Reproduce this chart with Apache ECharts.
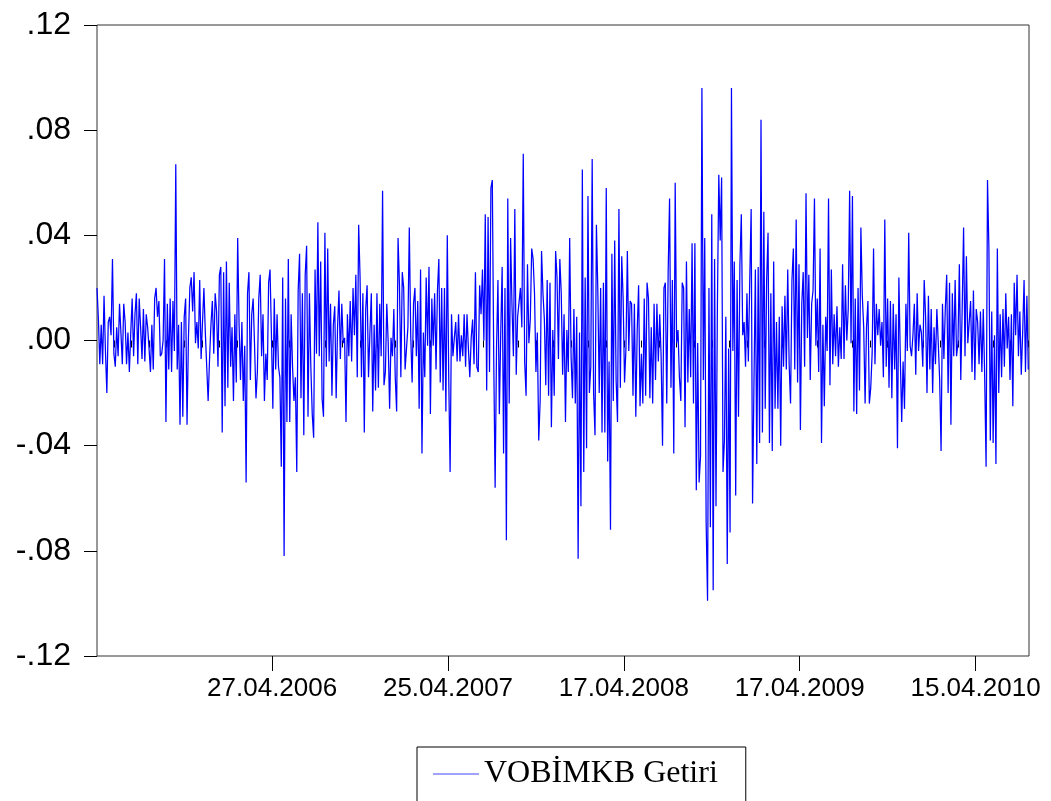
<!DOCTYPE html>
<html>
<head>
<meta charset="utf-8">
<title>VOBİMKB Getiri</title>
<script src="https://cdn.jsdelivr.net/npm/echarts@6/dist/echarts.min.js"></script>
<style>
  html, body { margin: 0; padding: 0; background: #fff; }
  #chart { width: 1051px; height: 801px; }
</style>
</head>
<body>
<div id="chart"></div>
<script>
// günlük getiri (her 2 gözlemde bir: 1, 3, 5, ...)
var getiri = [
  .020, .008, -.009, .006, -.009, .017, -.004, -.020, .007, .009,
  .002, .031, -.005, -.010, .005, -.006, .014, .003, -.009, .014,
  .007, -.009, .003, -.012, .003, .016, -.006, .010, .018, -.009,
  .016, .005, -.007, .012, -.008, .010, .005, -.003, -.012, .006,
  -.011, .016, .020, .009, .015, -.006, -.005, .000, .031, -.031,
  .014, -.011, .016, -.012, .015, -.004, .067, -.011, .006, -.032,
  .007, -.029, .009, .016, -.032, .001, .020, .024, .011, .026,
  -.001, .007, -.003, .023, -.007, .007, .020, .003, -.010, -.023,
  -.007, .006, .015, -.005, .018, .011, -.010, .025, .028, -.035,
  .026, -.025, .030, -.018, .022, -.010, .005, -.023, .010, -.016,
  .039, .006, -.015, .007, -.023, -.002, -.054, .018, .026, -.015,
  .010, .016, -.002, -.022, -.012, .016, .025, -.006, .010, -.023,
  -.005, -.015, .022, .027, .002, -.026, .016, -.011, .010, -.010,
  -.014, -.048, .024, -.082, .016, -.031, .031, -.031, .010, -.010,
  -.023, -.014, -.050, .019, .033, -.022, .018, -.036, .025, .036,
  -.029, .018, -.010, -.028, -.037, .027, -.005, .045, -.006, .030,
  -.022, -.029, .041, -.010, .035, -.008, .014, -.021, .006, .013,
  -.022, .005, .019, -.007, .014, -.001, .001, -.031, .010, -.006,
  .015, -.008, .020, .002, .025, -.014, .044, .024, -.014, .018,
  -.035, .012, .021, -.014, .003, .018, -.027, .006, -.019, .018,
  -.018, .014, -.006, .057, -.017, -.012, .014, -.001, -.026, .001,
  -.006, .012, -.014, -.027, .039, .021, -.014, .026, .020, -.011,
  -.011, .005, .043, .002, -.016, .014, .020, -.006, .015, -.026,
  .027, -.043, .003, -.014, .024, -.002, .028, -.028, .016, -.002,
  .018, -.011, .019, .031, -.016, .020, -.019, .020, -.027, .040,
  -.013, -.050, .010, -.006, .001, .007, -.008, .010, -.008, .002,
  -.006, .010, -.010, .010, -.003, -.014, .001, .008, -.009, .026,
  -.010, -.012, .021, .010, .027, .000, .048, -.019, .047, -.012,
  .058, .061, -.006, -.056, -.003, .023, -.028, .003, .028, -.043,
  .020, -.076, .054, -.024, .039, .013, -.006, .050, -.013, .009,
  .009, .020, .005, .071, -.008, -.021, .029, -.001, .008, .035,
  .031, .018, -.012, .003, -.038, -.023, .034, .018, .008, -.017,
  .023, -.021, .022, -.033, .004, -.021, .034, .024, -.007, .031,
  .018, -.013, .010, -.031, .004, -.012, .039, -.006, -.022, .012,
  -.024, .009, -.083, .003, -.063, .065, -.050, .024, -.041, .055,
  -.020, -.010, .069, -.020, -.036, .044, .019, -.020, .020, -.035,
  .022, -.035, .058, -.046, -.008, -.072, .033, -.023, .038, -.015,
  -.031, .050, -.018, .032, .016, -.016, -.003, .034, -.004, .015,
  .014, -.021, .014, -.029, .004, .021, -.025, -.005, -.024, .016,
  -.021, .022, .016, -.022, .005, -.024, .014, -.015, .014, -.008,
  .010, -.006, -.040, .020, .022, -.024, .026, .054, -.018, .023,
  -.043, .060, -.001, .004, -.014, -.023, .022, .020, -.033, .030,
  -.016, .012, -.014, .037, -.024, .037, -.057, -.001, -.054, -.044,
  .096, -.015, .039, -.069, -.099, .020, -.071, .048, -.095, .031,
  -.063, .013, .063, .038, .062, -.050, -.038, .009, -.085, -.003,
  -.073, .096, -.004, .030, -.059, .023, -.029, .029, .048, .002,
  .007, -.010, .018, -.008, .023, .050, -.062, -.016, .027, -.047,
  .028, -.039, .084, -.035, .049, -.026, .023, .041, -.039, .018,
  -.042, .030, -.026, .007, -.026, .009, -.040, .013, -.010, .017,
  -.011, .027, -.009, -.024, .023, .035, -.011, .046, -.016, .029,
  -.034, .014, .026, -.010, .056, .001, .025, -.015, .014, .019,
  .054, -.002, .016, -.012, .035, -.039, .006, -.025, .009, -.004,
  .054, -.017, .027, -.009, .010, -.006, .013, -.010, .005, -.007,
  .029, -.007, .021, .000, .012, .057, -.001, .055, -.027, .016,
  -.028, .020, -.019, .043, .017, .005, -.024, .005, .015, -.024,
  -.018, -.005, .035, -.009, .014, .002, .012, -.002, .007, -.014,
  .046, -.010, .016, -.018, .015, -.022, .014, -.011, .010, -.041,
  .024, -.006, -.031, -.008, -.026, .014, -.004, .041, -.002, -.006,
  .002, .014, -.013, .018, -.004, .006, .003, -.010, .023, .009,
  -.020, .017, -.011, .012, -.020, .005, -.009, .012, -.001, -.015,
  -.042, .014, -.007, .012, .025, -.020, .022, -.032, .018, -.006,
  .023, -.006, -.001, .029, -.015, .012, .043, -.006, .032, -.001,
  -.001, .015, -.012, .019, -.015, .012, .007, -.009, .011, -.012,
  .012, -.014, -.048, .061, .035, -.038, .011, -.039, .002, -.047,
  .035, -.020, .010, -.014, .012, -.010, .018, -.003, .009, -.015,
  .010, -.025, .022, .002, .025, -.006, .011, -.013, .003, .023,
  -.012, .017, -.011
];
var firstObs = 1, obsStep = 2, lastObs = 1326;
var tickStep = 25;
var labelObs = [250, 500, 750, 1000, 1250];
var dateLabels = ['27.04.2006', '25.04.2007', '17.04.2008', '17.04.2009', '15.04.2010'];
var seriesName = 'VOBİMKB Getiri';

var minorTicks = [];
for (var t = tickStep; t < lastObs; t += tickStep) minorTicks.push(t);

var seriesData = getiri.map(function (v, i) {
  return [firstObs + i * obsStep, v];
});

var sansFont = '"Liberation Sans", Arial, sans-serif';

var myChart = echarts.init(document.getElementById('chart'));
myChart.setOption({
  animation: false,
  backgroundColor: '#fff',
  grid: {
    left: 97, top: 25, width: 932, height: 631,
    show: true, borderColor: '#333', borderWidth: 1, backgroundColor: 'transparent'
  },
  xAxis: [
    {
      type: 'value', min: firstObs, max: lastObs,
      axisLine: {show: false},
      splitLine: {show: false},
      axisTick: {show: true, customValues: minorTicks, length: 7, lineStyle: {color: '#000'}},
      axisLabel: {show: false}
    },
    {
      type: 'value', min: firstObs, max: lastObs, position: 'bottom',
      axisLine: {show: false},
      splitLine: {show: false},
      axisTick: {show: true, customValues: labelObs, length: 15, lineStyle: {color: '#000'}},
      axisLabel: {
        show: true, customValues: labelObs, margin: 20,
        color: '#000', fontSize: 26, fontFamily: sansFont,
        formatter: function (v) {
          var k = labelObs.indexOf(Math.round(v));
          return k >= 0 ? dateLabels[k] : '';
        }
      }
    }
  ],
  yAxis: {
    type: 'value', min: -0.12, max: 0.12, interval: 0.04,
    axisLine: {show: false},
    splitLine: {show: false},
    axisTick: {show: true, length: 13, lineStyle: {color: '#000'}},
    axisLabel: {
      margin: 26, color: '#000', fontSize: 32, fontFamily: sansFont,
      formatter: function (v) {
        if (Math.abs(v) < 1e-9) return '.00';
        return (v < 0 ? '-' : '') + Math.abs(v).toFixed(2).replace(/^0/, '');
      }
    }
  },
  legend: {
    left: 417, top: 747,
    padding: [11, 28, 40, 16],
    borderColor: '#000', borderWidth: 1,
    itemWidth: 46, itemHeight: 1,
    icon: 'rect',
    itemStyle: {color: '#4444ff'},
    textStyle: {color: '#000', fontSize: 32, fontFamily: '"Liberation Serif", "Times New Roman", serif'},
    data: [seriesName]
  },
  series: [{
    name: seriesName,
    type: 'line',
    xAxisIndex: 0,
    data: seriesData,
    symbol: 'none',
    lineStyle: {color: '#0000ff', width: 1.25},
    itemStyle: {color: '#0000ff'}
  }]
});
</script>
</body>
</html>
